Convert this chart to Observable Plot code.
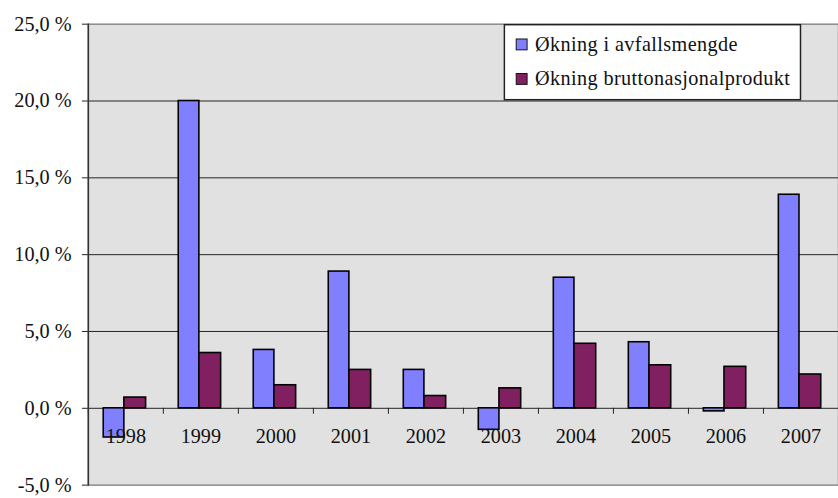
<!DOCTYPE html>
<html>
<head>
<meta charset="utf-8">
<script src="https://cdn.jsdelivr.net/npm/d3@7"></script>
<script src="https://cdn.jsdelivr.net/npm/@observablehq/plot@0.6"></script>
<style>
  html, body { margin: 0; padding: 0; background: #fff; overflow: hidden; }
  #wrap { position: relative; width: 838px; height: 498px; overflow: hidden; }
</style>
</head>
<body>
<div id="wrap"></div>
<script>
// Annual growth, percent
const years = ["1998", "1999", "2000", "2001", "2002", "2003", "2004", "2005", "2006", "2007"];
const wasteGrowth = [-1.9, 20.0, 3.8, 8.9, 2.5, -1.4, 8.5, 4.3, -0.2, 13.9];
const gdpGrowth = [0.7, 3.6, 1.5, 2.5, 0.8, 1.3, 4.2, 2.8, 2.7, 2.2];
const seriesNames = ["Økning i avfallsmengde", "Økning bruttonasjonalprodukt"];
const seriesColors = ["#8080ff", "#802060"];
const yTicks = [-5, 0, 5, 10, 15, 20, 25];

const wasteRows = years.map((year, i) => ({year, value: wasteGrowth[i]}));
const gdpRows = years.map((year, i) => ({year, value: gdpGrowth[i]}));

const serif = "Liberation Serif";
const fontSize = 20.5;
const width = 849, marginLeft = 89, marginRight = 0;
const step = (width - marginLeft - marginRight) / years.length;
const pct = d => d.toFixed(1).replace(".", ",") + " %";

const chart = Plot.plot({
  width, height: 498,
  marginLeft, marginRight, marginTop: 24, marginBottom: 7,
  style: {fontFamily: serif, fontSize: fontSize + "px", color: "#111", background: "transparent", overflow: "visible"},
  x: {type: "band", domain: years, padding: 0, axis: null},
  y: {domain: [-5, 25], axis: null},
  marks: [
    Plot.frame({fill: "#e1e1e1", stroke: "#8a8a8a", strokeWidth: 1.5}),
    Plot.ruleY(yTicks.filter(v => v > -5 && v < 25), {stroke: "#222", strokeWidth: 1}),
    Plot.barY(wasteRows, {x: "year", y: "value", fill: seriesColors[0], stroke: "#000", strokeWidth: 1.6,
      insetLeft: step * 0.205, insetRight: step * 0.52}),
    Plot.barY(gdpRows, {x: "year", y: "value", fill: seriesColors[1], stroke: "#000", strokeWidth: 1.6,
      insetLeft: step * 0.48, insetRight: step * 0.23}),
    // category separators below the zero line
    Plot.ruleX(years, {x: d => d, y1: 0, y2: 0, insetBottom: -6, dx: -step / 2, stroke: "#222"}),
    Plot.text(years, {x: d => d, y: 0, dy: 29, text: d => d, fill: "#111"}),
    Plot.axisY({ticks: yTicks, tickSize: 6, tickPadding: 11, tickFormat: pct, stroke: "#222", label: null}),
    Plot.frame({anchor: "left", stroke: "#333", strokeWidth: 1.5})
  ]
});
document.getElementById("wrap").append(chart);

// legend box in the upper right of the plot area
const svg = d3.select(chart);
const lg = svg.append("g").attr("transform", "translate(511,25)")
  .attr("font-family", serif).attr("font-size", fontSize).attr("text-anchor", "start");
lg.append("rect").attr("width", 300).attr("height", 76)
  .attr("fill", "#fff").attr("stroke", "#222").attr("stroke-width", 1.5);
seriesNames.forEach((name, i) => {
  const row = lg.append("g").attr("transform", `translate(12,${i === 0 ? 20 : 55})`);
  row.append("rect").attr("x", 0).attr("y", -5.5).attr("width", 11).attr("height", 11)
    .attr("fill", seriesColors[i]).attr("stroke", "#111");
  row.append("text").attr("x", 19).attr("dy", "0.32em").attr("fill", "#111")
    .attr("letter-spacing", "0.4px").attr("text-anchor", "start").text(name);
});
</script>
</body>
</html>
